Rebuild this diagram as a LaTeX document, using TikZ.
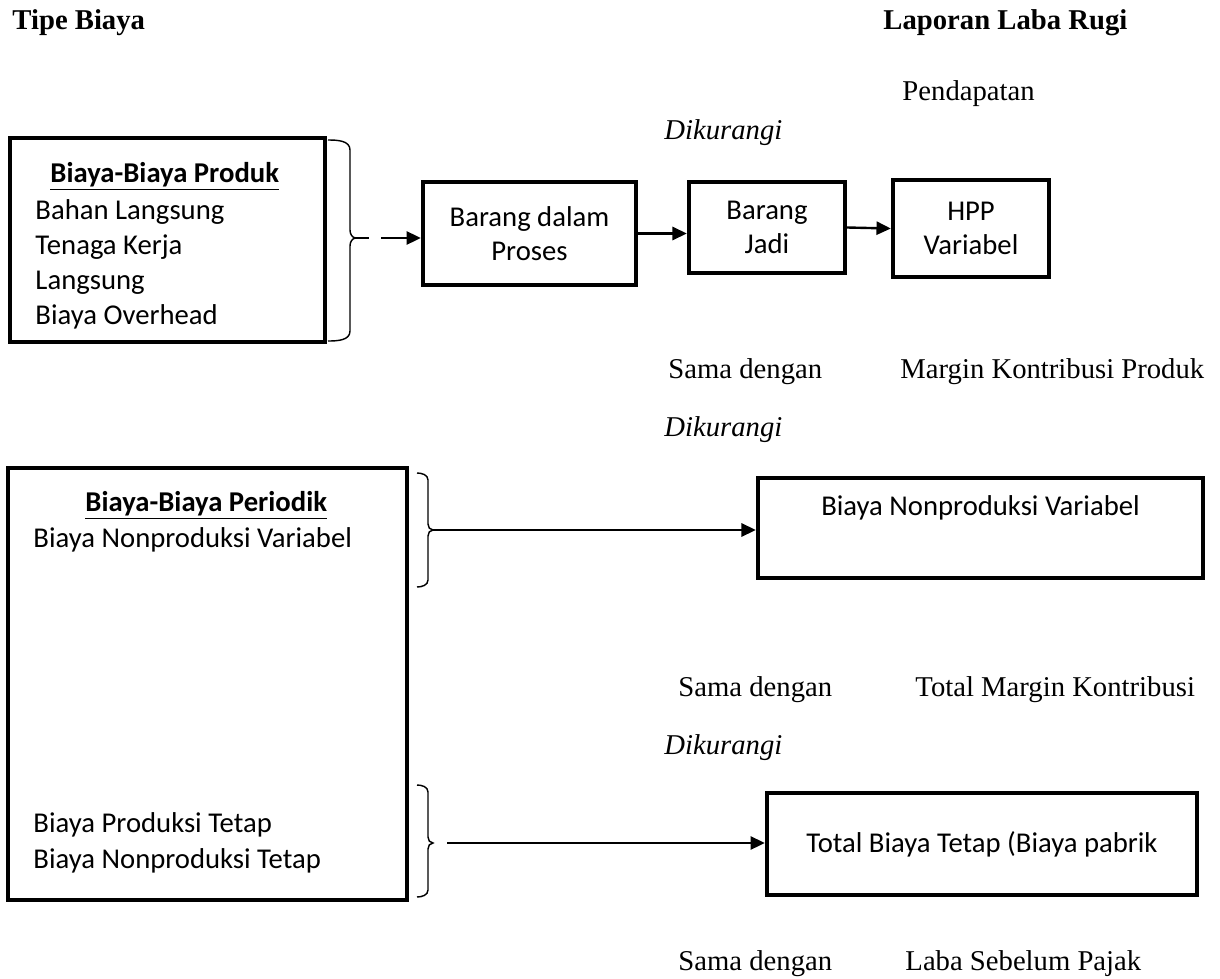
\documentclass[tikz,border=0pt,12pt]{standalone}
\usepackage{fontspec}
\setmainfont{Liberation Serif}
\newfontfamily\calfont{Carlito}
\usetikzlibrary{arrows.meta, positioning}

\begin{document}
\begin{tikzpicture}[x=0.4184pt, y=-0.4184pt,
  box/.style={draw, line width=1.8pt, inner sep=0pt},
  boxtext/.style={font=\calfont, align=center, inner sep=0pt},
  lbl/.style={anchor=base west, inner sep=0pt},
  brace/.style={line width=0.6pt},
  link/.style={line width=1pt, -{Triangle[length=6pt, width=5.5pt]}}]
  \useasboundingbox (0,0) rectangle (1220,979);

  % headings
  \node[lbl, font=\bfseries] (tipe) at (12, 29) {Tipe Biaya};
  \node[lbl, font=\bfseries] (lapor) at (883, 29) {Laporan Laba Rugi};

  % income statement column
  \node[lbl] (pend) at (902, 100) {Pendapatan};
  \node[lbl, font=\itshape] (kur1) at (664, 139) {Dikurangi};
  \node[lbl] (sama1) at (668, 378) {Sama dengan};
  \node[lbl] (mkp) at (900, 378) {Margin Kontribusi Produk};
  \node[lbl, font=\itshape] (kur2) at (664, 436) {Dikurangi};
  \node[lbl] (sama2) at (678, 696) {Sama dengan};
  \node[lbl] (tmk) at (915, 696) {Total Margin Kontribusi};
  \node[lbl, font=\itshape] (kur3) at (664, 754) {Dikurangi};
  \node[lbl] (sama3) at (678, 970) {Sama dengan};
  \node[lbl] (laba) at (905, 970) {Laba Sebelum Pajak};

  % product costs
  \node[box, minimum width=131.8pt, minimum height=85.4pt] (prodbox) at (167.5, 240) {};
  \node[lbl, font=\calfont\bfseries] (prodttl) at (50, 182) {\underline{Biaya-Biaya Produk}};
  \node[lbl, font=\calfont] (prod1) at (35, 219) {Bahan Langsung};
  \node[lbl, font=\calfont] (prod2) at (35, 254) {Tenaga Kerja};
  \node[lbl, font=\calfont] (prod3) at (35, 289) {Langsung};
  \node[lbl, font=\calfont] (prod4) at (35, 324) {Biaya Overhead};
  \draw[brace] (328,140) to[out=0, in=90] (350,150) -- (350,230)
    to[out=-90, in=180] (356,238) to[out=180, in=90] (350,246)
    -- (350,331) to[out=-90, in=0] (328,341);
  \coordinate (prodtip) at (356,238);

  \node[box, boxtext, minimum width=89.1pt, minimum height=43.1pt] (wipbox) at (529.5, 233.5) {Barang dalam\\Proses};
  \node[box, boxtext, minimum width=65.3pt, minimum height=38.1pt] (fgbox) at (767, 227.5) {Barang\\Jadi};
  \node[box, boxtext, minimum width=65.3pt, minimum height=40.6pt] (hppbox) at (971, 228.5) {HPP\\Variabel};

  \draw[link, dash pattern={on 5.5pt off 5pt on 40pt off 0pt}] (prodtip) -- (prodtip -| wipbox.west);
  \draw[link] (wipbox.east) -- (wipbox.east -| fgbox.west);
  \draw[link] (fgbox.east) -- (hppbox.west);

  % period costs
  \node[box, minimum width=166.9pt, minimum height=180.7pt] (perbox) at (207.5, 684) {};
  \node[lbl, font=\calfont\bfseries] (perttl) at (85, 511) {\underline{Biaya-Biaya Periodik}};
  \node[lbl, font=\calfont] (per1) at (33, 547) {Biaya Nonproduksi Variabel};
  \node[lbl, font=\calfont] (per2) at (33, 832) {Biaya Produksi Tetap};
  \node[lbl, font=\calfont] (per3) at (33, 868) {Biaya Nonproduksi Tetap};

  \draw[brace] (417,473) to[out=0, in=90] (428,480) -- (428,524)
    to[out=-90, in=180] (433,530) to[out=180, in=90] (428,536)
    -- (428,580) to[out=-90, in=0] (417,587);
  \coordinate (vartip) at (433,530);
  \draw[brace] (417,785) to[out=0, in=90] (428,792) -- (428,837)
    to[out=-90, in=180] (433,843) to[out=180, in=90] (428,849)
    -- (428,890) to[out=-90, in=0] (417,897);
  \coordinate (fixtip) at (433,843);

  \node[box, boxtext, minimum width=186.2pt, minimum height=41.8pt] (npvbox) at (980.5, 528) {Biaya Nonproduksi Variabel\\\strut};
  \node[box, boxtext, minimum width=179.9pt, minimum height=42.7pt] (fixbox) at (982, 844) {Total Biaya Tetap (Biaya pabrik};

  \draw[link] (vartip) -- (vartip -| npvbox.west);
  \draw[link, shorten <=6pt] (fixtip) -- (fixtip -| fixbox.west);
\end{tikzpicture}
\end{document}
